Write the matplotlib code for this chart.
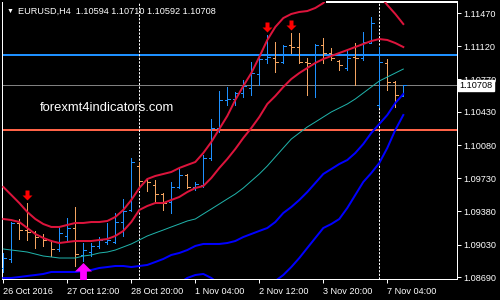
import matplotlib
matplotlib.use("Agg")
import matplotlib.pyplot as plt
import numpy as np
from matplotlib.path import Path

plt.rcParams['font.family'] = ['Liberation Sans', 'DejaVu Sans']

symbol = "EURUSD,H4"
header_ohlc = [1.10594, 1.10710, 1.10592, 1.10708]

# H4 bars, 26 Oct 2016 04:00 .. 7 Nov 2016 12:00
opens = [1.08785, 1.08880, 1.09259, 1.09185, 1.09164, 1.09111, 1.09075, 1.08985, 1.09122, 1.09206,
         1.08922, 1.08953, 1.09016, 1.09059, 1.09059, 1.09269, 1.09396, 1.09859, 1.09711, 1.09659,
         1.09564, 1.09480, 1.09638, 1.09764, 1.09638, 1.09659, 1.09943, 1.10259, 1.10554, 1.10564,
         1.10628, 1.10680, 1.10828, 1.10986, 1.10996, 1.10954, 1.11133, 1.11112, 1.10954, 1.10943,
         1.11133, 1.11049, 1.10964, 1.10891, 1.11007, 1.10996, 1.11154, 1.10501, 1.10943, 1.10743,
         1.10594]
highs = [1.08943, 1.09269, 1.09301, 1.09469, 1.09170, 1.09143, 1.09080, 1.09217, 1.09311, 1.09427,
         1.09048, 1.09048, 1.09111, 1.09259, 1.09364, 1.09511, 1.09943, 1.09901, 1.09732, 1.09711,
         1.09575, 1.09690, 1.09838, 1.09775, 1.09690, 1.09975, 1.10354, 1.10649, 1.10691, 1.10638,
         1.10764, 1.10954, 1.11007, 1.11238, 1.11165, 1.11133, 1.11259, 1.11259, 1.10996, 1.11143,
         1.11207, 1.11101, 1.10975, 1.11080, 1.11154, 1.11270, 1.11428, 1.11112, 1.10986, 1.10754,
         1.10710]
lows = [1.08743, 1.08848, 1.09090, 1.09080, 1.08995, 1.09016, 1.08911, 1.08964, 1.09080, 1.08806,
        1.08858, 1.08911, 1.08995, 1.09037, 1.09048, 1.09122, 1.09385, 1.09648, 1.09596, 1.09469,
        1.09396, 1.09364, 1.09627, 1.09627, 1.09606, 1.09638, 1.09922, 1.10217, 1.10501, 1.10501,
        1.10585, 1.10606, 1.10712, 1.10943, 1.10849, 1.10943, 1.11049, 1.10943, 1.10606, 1.10585,
        1.10943, 1.10975, 1.10870, 1.10870, 1.10712, 1.10975, 1.11154, 1.10480, 1.10659, 1.10480,
        1.10592]
closes = [1.08890, 1.09259, 1.09185, 1.09164, 1.09111, 1.09080, 1.08985, 1.09153, 1.09206, 1.08932,
          1.08974, 1.09016, 1.09080, 1.09080, 1.09269, 1.09385, 1.09901, 1.09701, 1.09690, 1.09564,
          1.09469, 1.09638, 1.09764, 1.09638, 1.09669, 1.09943, 1.10259, 1.10554, 1.10564, 1.10628,
          1.10701, 1.10838, 1.10986, 1.11007, 1.10954, 1.11122, 1.11112, 1.10954, 1.10943, 1.11133,
          1.11049, 1.10996, 1.10922, 1.10996, 1.10996, 1.11165, 1.11365, 1.10954, 1.10743, 1.10606,
          1.10708]

# band indicator lines
red_outer = [1.09638, 1.09554, 1.09469, 1.09375, 1.09301, 1.09248, 1.09217, 1.09217, 1.09238, 1.09259,
             1.09259, 1.09269, 1.09269, 1.09280, 1.09322, 1.09396, 1.09501, 1.09627, 1.09722, 1.09754,
             1.09775, 1.09796, 1.09838, 1.09870, 1.09901, 1.09996, 1.10112, 1.10249, 1.10386, 1.10554,
             1.10701, 1.10838, 1.11007, 1.11186, 1.11323, 1.11417, 1.11460, 1.11481, 1.11491, 1.11523,
             1.11575, 1.11670, 1.11754, 1.11797, 1.11818, 1.11818, 1.11765, 1.11660, 1.11554, 1.11460,
             1.11354]
red_inner = [1.09301, 1.09290, 1.09269, 1.09206, 1.09143, 1.09101, 1.09069, 1.09048, 1.09059, 1.09069,
             1.09069, 1.09069, 1.09080, 1.09090, 1.09122, 1.09175, 1.09269, 1.09396, 1.09438, 1.09469,
             1.09469, 1.09501, 1.09533, 1.09585, 1.09627, 1.09648, 1.09733, 1.09838, 1.09933, 1.10038,
             1.10154, 1.10259, 1.10375, 1.10512, 1.10596, 1.10691, 1.10775, 1.10838, 1.10891, 1.10944,
             1.10986, 1.11017, 1.11049, 1.11080, 1.11112, 1.11144, 1.11175, 1.11196, 1.11186, 1.11154,
             1.11112]
mid_line = [1.08985, 1.08974, 1.08964, 1.08953, 1.08932, 1.08911, 1.08901, 1.08890, 1.08890, 1.08890,
            1.08911, 1.08922, 1.08943, 1.08953, 1.08974, 1.09006, 1.09038, 1.09080, 1.09122, 1.09154,
            1.09185, 1.09217, 1.09248, 1.09280, 1.09301, 1.09354, 1.09406, 1.09459, 1.09512, 1.09564,
            1.09627, 1.09701, 1.09775, 1.09859, 1.09954, 1.10049, 1.10143, 1.10207, 1.10270, 1.10322,
            1.10375, 1.10428, 1.10470, 1.10512, 1.10565, 1.10628, 1.10691, 1.10754, 1.10796, 1.10838,
            1.10880]
blue_inner = [1.08680, 1.08680, 1.08690, 1.08701, 1.08711, 1.08722, 1.08743, 1.08743, 1.08743, 1.08743,
              1.08753, 1.08764, 1.08785, 1.08795, 1.08806, 1.08806, 1.08795, 1.08806, 1.08817, 1.08848,
              1.08880, 1.08922, 1.08943, 1.08974, 1.09017, 1.09038, 1.09038, 1.09038, 1.09048, 1.09069,
              1.09111, 1.09143, 1.09175, 1.09206, 1.09269, 1.09364, 1.09427, 1.09501, 1.09585, 1.09680,
              1.09775, 1.09827, 1.09880, 1.09922, 1.09996, 1.10091, 1.10207, 1.10301, 1.10396, 1.10522,
              1.10617]
blue_outer = [np.nan] * 22 + [
              1.08627, 1.08680, 1.08711, 1.08722, 1.08680, 1.08616, 1.08553, 1.08522,
              1.08511, 1.08522, 1.08553, 1.08595, 1.08648, 1.08711, 1.08795, 1.08890, 1.08996, 1.09101,
              1.09206, 1.09248, 1.09301, 1.09417, 1.09554, 1.09691, 1.09785, 1.09891, 1.10049, 1.10238,
              1.10396]

tick_bars = [0, 8, 16, 24, 32, 40, 48]
tick_text = ["26 Oct 2016", "27 Oct 12:00", "28 Oct 20:00", "1 Nov 04:00",
             "2 Nov 12:00", "3 Nov 20:00", "7 Nov 04:00"]
price_ticks = [1.11470, 1.11120, 1.10770, 1.10430, 1.10080, 1.09730, 1.09380, 1.09030, 1.08690]
week_breaks = [17, 47]

sell_bars = [3, 33, 36]
sell_prices = [1.09554, 1.11323, 1.11344]
buy_bars = [10]
buy_prices = [1.08753]

level_high = 1.11023
level_low = 1.10238

W, H = 500, 300
fig = plt.figure(figsize=(5, 3), dpi=100, facecolor='black')
ax = fig.add_axes([2 / W, 21 / H, 455 / W, 277 / H], facecolor='black')

n = len(opens)
x = np.arange(n)
px = 0.72  # one pixel in points

# bars
for i in range(n):
    col = '#1e90ff' if closes[i] >= opens[i] else '#f4a460'
    ax.vlines(i, lows[i], highs[i], color=col, lw=px, antialiased=False, zorder=3)
    ax.hlines(opens[i], i - 0.3, i, color=col, lw=px, antialiased=False, zorder=3)
    ax.hlines(closes[i], i, i + 0.3, color=col, lw=px, antialiased=False, zorder=3)

ax.plot(x, red_outer, color='#dc143c', lw=2 * px, zorder=4)
ax.plot(x, red_inner, color='#dc143c', lw=2 * px, zorder=4)
ax.plot(x, mid_line, color='#20b2aa', lw=px, zorder=4)
ax.plot(x, blue_inner, color='#0000ff', lw=2 * px, zorder=4)
ax.plot(x, blue_outer, color='#0000ff', lw=2 * px, zorder=4)

ax.axhline(level_high, color='#1e90ff', lw=2 * px, zorder=2)
ax.axhline(level_low, color='#ff6347', lw=2 * px, zorder=2)
ax.axhline(header_ohlc[3], color='#808080', lw=px, zorder=2)

for b in week_breaks:
    ax.axvline(b, color='white', lw=px, dashes=(3 * px, 2 * px), zorder=2)

# arrows
down = Path([(-0.2, 0.5), (0.2, 0.5), (0.2, 0.0), (0.5, 0.0), (0.0, -0.5),
             (-0.5, 0.0), (-0.2, 0.0), (-0.2, 0.5)])
up = Path([(-0.2, -0.5), (0.2, -0.5), (0.2, 0.0), (0.5, 0.0), (0.0, 0.5),
           (-0.5, 0.0), (-0.2, 0.0), (-0.2, -0.5)])
ax.scatter(sell_bars, sell_prices, marker=down, s=(10 * px) ** 2, color='#ff0000',
           linewidths=0, zorder=6)
ax.scatter(buy_bars, buy_prices, marker=up, s=(17 * px) ** 2, color='#ff00ff',
           linewidths=0, zorder=6)

ax.set_xlim((2 - 3.3) / 8, (457 - 3.3) / 8)
ax.set_ylim(1.08669, 1.11586)

for s in ['left', 'right', 'bottom']:
    ax.spines[s].set_color('white')
    ax.spines[s].set_linewidth(px)
ax.spines['top'].set_visible(False)
ax.axhline(1.11586, xmin=0.715, xmax=1, color='white', lw=2 * px, clip_on=False)

ax.set_xticks(tick_bars)
ax.set_xticklabels(tick_text, ha='left')
ax.yaxis.tick_right()
ax.set_yticks(price_ticks)
ax.set_yticklabels(['%.5f' % p for p in price_ticks])
ax.tick_params(colors='white', labelsize=6.6, length=3, width=px, pad=1.5)
ax.tick_params(axis='x', pad=3)
for lab in ax.get_xticklabels():
    lab.set_x(lab.get_position()[0])

# current price label
ax.text(1.006, header_ohlc[3], '%.5f' % header_ohlc[3], transform=ax.get_yaxis_transform(),
        color='black', fontsize=6.6, va='center', ha='left', zorder=10, clip_on=False,
        bbox=dict(boxstyle='square,pad=0.15', fc='white', ec='white'))

fig.text(7 / W, 1 - 11 / H, '▼', color='white', fontsize=5, va='center', ha='left')
fig.text(18 / W, 1 - 11 / H,
         symbol + '  ' + ' '.join('%.5f' % v for v in header_ohlc),
         color='white', fontsize=6.6, va='center', ha='left')
fig.text(40 / W, 1 - 108 / H, 'forexmt4indicators.com', color='white',
         fontsize=9.4, va='center', ha='left')

fig.savefig('out.png', dpi=100, facecolor='black')
